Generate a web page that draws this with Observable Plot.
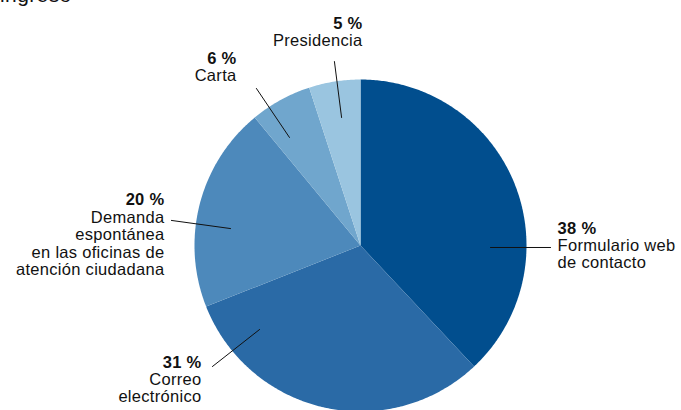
<!DOCTYPE html>
<html>
<head>
<meta charset="utf-8">
<script src="https://cdn.jsdelivr.net/npm/d3@7"></script>
<script src="https://cdn.jsdelivr.net/npm/@observablehq/plot@0.6"></script>
<style>
  html, body { margin: 0; padding: 0; background: #fff; overflow: hidden; }
  #chart { position: relative; width: 681px; height: 410px; }
  #title { position: absolute; left: 0; top: -17px; font: 21px "Liberation Sans", Arial, sans-serif; color: #111; letter-spacing: 0.4px; }
</style>
</head>
<body>
<div id="chart"><div id="title">ingreso</div></div>
<script>
// Data
const categories = ["Formulario web de contacto", "Correo electrónico", "Demanda espontánea en las oficinas de atención ciudadana", "Carta", "Presidencia"];
const labelLines = ["Formulario web\nde contacto", "Correo\nelectrónico", "Demanda\nespontánea\nen las oficinas de\natención ciudadana", "Carta", "Presidencia"];
const shares = [38, 31, 20, 6, 5];
const colors = ["#014e8e", "#2a6aa6", "#4d89bb", "#70a6cd", "#9ac5e0"];

// Layout (annotation anchors in pie-radius units, not data)
const labelAnchor = [
  {x: 1.187, y: 0.072, anchor: "start"},
  {x: -0.958, y: -0.735, anchor: "end"},
  {x: -1.181, y: 0.241, anchor: "end"},
  {x: -0.747, y: 1.096, anchor: "end"},
  {x: 0.012, y: 1.307, anchor: "end"}
];
const leaders = [
  [[0.783, -0.012], [1.145, -0.012]],
  [[-0.608, -0.506], [-0.892, -0.729]],
  [[-0.783, 0.102], [-1.139, 0.151]],
  [[-0.428, 0.651], [-0.627, 0.946]],
  [[-0.114, 0.771], [-0.157, 1.108]]
];

// Build pie slices with d3.pie (clockwise from 12 o'clock)
const arcs = d3.pie().sort(null).value(d => d)(shares);
const slicePts = [];
arcs.forEach((a, i) => {
  const steps = Math.max(2, Math.ceil((a.endAngle - a.startAngle) / 0.01));
  slicePts.push({k: i, x: 0, y: 0});
  for (let s = 0; s <= steps; s++) {
    const t = a.startAngle + (a.endAngle - a.startAngle) * s / steps;
    slicePts.push({k: i, x: Math.sin(t), y: Math.cos(t)});
  }
  slicePts.push({k: i, x: 0, y: 0});
});
const leaderPts = leaders.flatMap((l, i) => l.map(p => ({k: i, x: p[0], y: p[1]})));
const labels = categories.map((c, i) => ({
  k: i,
  pct: `${shares[i]} %`,
  text: labelLines[i],
  x: labelAnchor[i].x,
  y: labelAnchor[i].y,
  anchor: labelAnchor[i].anchor
}));

const font = "'Liberation Sans', Arial, Helvetica, sans-serif";
const textOpts = (anchor) => ({fontSize: 16.5, fill: "#111", textAnchor: anchor});

const marks = [
  Plot.line(slicePts, {x: "x", y: "y", z: "k", fill: d => colors[d.k], stroke: "none", curve: "linear"}),
  Plot.line(leaderPts, {x: "x", y: "y", z: "k", stroke: "#111", strokeWidth: 1})
];
for (const anchor of ["start", "end"]) {
  const sub = labels.filter(d => d.anchor === anchor);
  marks.push(Plot.text(sub, {x: "x", y: "y", text: "pct", lineAnchor: "bottom", fontWeight: "bold", ...textOpts(anchor)}));
  marks.push(Plot.text(sub, {x: "x", y: "y", text: "text", lineAnchor: "top", lineHeight: 1.06, dy: 5, ...textOpts(anchor)}));
}

const chart = Plot.plot({
  width: 681,
  height: 410,
  margin: 0,
  style: {fontFamily: font, background: "transparent", overflow: "visible", letterSpacing: "0.3px"},
  x: {domain: [-1, 1], range: [194, 526], axis: null},
  y: {domain: [-1, 1], range: [411, 79], axis: null},
  color: {type: "identity"},
  marks
});
document.getElementById("chart").appendChild(chart);
</script>
</body>
</html>
